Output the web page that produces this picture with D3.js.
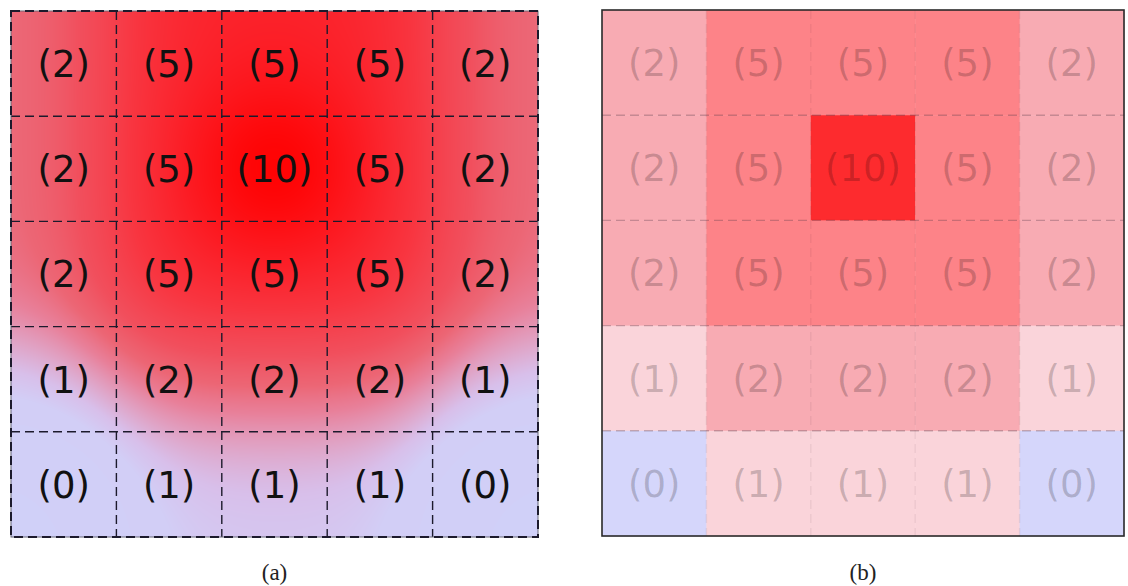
<!DOCTYPE html>
<html>
<head>
<meta charset="utf-8">
<script src="https://cdn.jsdelivr.net/npm/d3@7"></script>
<style>
  html, body { margin: 0; padding: 0; background: #ffffff; }
  svg { display: block; }
</style>
</head>
<body>
<svg id="chart" width="1128" height="586"></svg>
<script>
// ---- data ----
const rowIndex = [0, 1, 2, 3, 4];
const colIndex = [0, 1, 2, 3, 4];
const row1 = [2, 5, 5, 5, 2];
const row2 = [2, 5, 10, 5, 2];
const row3 = [2, 5, 5, 5, 2];
const row4 = [1, 2, 2, 2, 1];
const row5 = [0, 1, 1, 1, 0];
const gridRows = [row1, row2, row3, row4, row5];
const captions = ["(a)", "(b)"];

const cells = [];
gridRows.forEach((r, i) => r.forEach((v, j) => cells.push({ row: i, col: j, value: v })));
const label = v => "(" + v + ")";

const svg = d3.select("#chart");

// ---- panel (a): smooth field ----
const A = { x: 11, y: 11, w: 527, h: 526 };
const xa = d3.scaleBand().domain(colIndex).range([A.x, A.x + A.w]);
const ya = d3.scaleBand().domain(rowIndex).range([A.y, A.y + A.h]);

const colorA = d3.scaleLinear()
  .domain([0, 0.9, 1.15, 1.45, 1.8, 2.2, 2.8, 4.0, 5.5, 7.5])
  .range(["#d0d0f8", "#d2cef6", "#d8bfea", "#e0a2c4", "#e8809a", "#ec6675", "#f14f5d", "#f83540", "#fc1c24", "#ff0000"])
  .interpolate(d3.interpolateRgb)
  .clamp(true);

const sigma = 62;
const canvas = document.createElement("canvas");
canvas.width = A.w; canvas.height = A.h;
const ctx = canvas.getContext("2d");
const img = ctx.createImageData(A.w, A.h);
const centers = cells.map(c => ({
  cx: xa(c.col) + xa.bandwidth() / 2 - A.x,
  cy: ya(c.row) + ya.bandwidth() / 2 - A.y,
  v: c.value
}));
for (let py = 0; py < A.h; py++) {
  for (let px = 0; px < A.w; px++) {
    let sw = 0, sv = 0;
    for (const c of centers) {
      const dx = px + 0.5 - c.cx, dy = py + 0.5 - c.cy;
      const wgt = Math.exp(-(dx * dx + dy * dy) / (2 * sigma * sigma));
      sw += wgt; sv += wgt * c.v;
    }
    const col = d3.rgb(colorA(sv / sw));
    const k = (py * A.w + px) * 4;
    img.data[k] = col.r; img.data[k + 1] = col.g; img.data[k + 2] = col.b; img.data[k + 3] = 255;
  }
}
ctx.putImageData(img, 0, 0);
svg.append("image")
  .attr("x", A.x).attr("y", A.y)
  .attr("width", A.w).attr("height", A.h)
  .attr("href", canvas.toDataURL());

const gA = svg.append("g");
colIndex.slice(1).forEach(c => {
  gA.append("line").attr("x1", xa(c)).attr("x2", xa(c)).attr("y1", A.y).attr("y2", A.y + A.h)
    .attr("stroke", "#1c1a2c").attr("stroke-width", 1.4).attr("stroke-dasharray", "9,5");
});
rowIndex.slice(1).forEach(r => {
  gA.append("line").attr("x1", A.x).attr("x2", A.x + A.w).attr("y1", ya(r)).attr("y2", ya(r))
    .attr("stroke", "#1c1a2c").attr("stroke-width", 1.4).attr("stroke-dasharray", "9,5");
});
gA.append("rect").attr("x", A.x).attr("y", A.y).attr("width", A.w).attr("height", A.h)
  .attr("fill", "none").attr("stroke", "#666677").attr("stroke-width", 1);
gA.append("rect").attr("x", A.x).attr("y", A.y).attr("width", A.w).attr("height", A.h)
  .attr("fill", "none").attr("stroke", "#1c1a2c").attr("stroke-width", 2).attr("stroke-dasharray", "9,5");
gA.selectAll("text.lab").data(cells).enter().append("text")
  .attr("x", d => xa(d.col) + xa.bandwidth() / 2)
  .attr("y", d => ya(d.row) + ya.bandwidth() / 2)
  .attr("dy", "0.36em")
  .attr("text-anchor", "middle")
  .attr("font-family", "DejaVu Sans")
  .attr("font-size", 37)
  .attr("fill", "#111111")
  .text(d => label(d.value));

// ---- panel (b): flat cells ----
const B = { x: 602, y: 10, w: 522, h: 526 };
const xb = d3.scaleBand().domain(colIndex).range([B.x, B.x + B.w]);
const yb = d3.scaleBand().domain(rowIndex).range([B.y, B.y + B.h]);
const colorB = d3.scaleOrdinal()
  .domain([0, 1, 2, 5, 10])
  .range(["#d5d6fb", "#fad4da", "#f8abb3", "#fd8388", "#fd2b2e"]);

const gB = svg.append("g");
gB.selectAll("rect.cell").data(cells).enter().append("rect")
  .attr("x", d => xb(d.col)).attr("y", d => yb(d.row))
  .attr("width", xb.bandwidth() + 0.5).attr("height", yb.bandwidth() + 0.5)
  .attr("fill", d => colorB(d.value));
colIndex.slice(1).forEach(c => {
  gB.append("line").attr("x1", xb(c)).attr("x2", xb(c)).attr("y1", B.y).attr("y2", B.y + B.h)
    .attr("stroke", "#503040").attr("stroke-opacity", 0.08).attr("stroke-width", 1.4).attr("stroke-dasharray", "9,5");
});
rowIndex.slice(1).forEach(r => {
  gB.append("line").attr("x1", B.x).attr("x2", B.x + B.w).attr("y1", yb(r)).attr("y2", yb(r))
    .attr("stroke", "#503040").attr("stroke-opacity", 0.3).attr("stroke-width", 1.4).attr("stroke-dasharray", "9,5");
});
gB.selectAll("text.lab").data(cells).enter().append("text")
  .attr("x", d => xb(d.col) + xb.bandwidth() / 2)
  .attr("y", d => yb(d.row) + yb.bandwidth() / 2)
  .attr("dy", "0.36em")
  .attr("text-anchor", "middle")
  .attr("font-family", "DejaVu Sans")
  .attr("font-size", 37)
  .attr("fill", "#000000")
  .attr("fill-opacity", 0.2)
  .text(d => label(d.value));
gB.append("rect").attr("x", B.x).attr("y", B.y).attr("width", B.w).attr("height", B.h)
  .attr("fill", "none").attr("stroke", "#2a2a2a").attr("stroke-width", 1.6);

// ---- captions ----
svg.selectAll("text.cap").data(captions).enter().append("text")
  .attr("x", (d, i) => i === 0 ? A.x + A.w / 2 : B.x + B.w / 2)
  .attr("y", 580)
  .attr("text-anchor", "middle")
  .attr("font-family", "Liberation Serif")
  .attr("font-size", 23)
  .attr("fill", "#222222")
  .text(d => d);
</script>
</body>
</html>
